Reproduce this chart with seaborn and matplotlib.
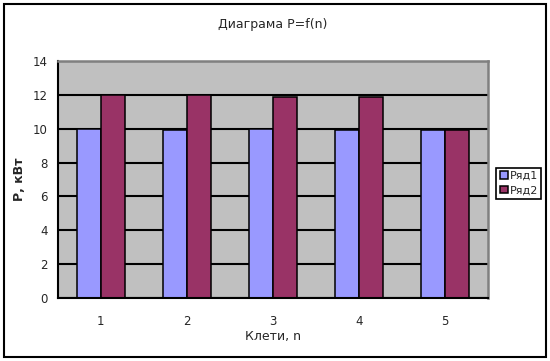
import pandas as pd
import matplotlib.pyplot as plt
import seaborn as sns
from matplotlib.patches import Rectangle
from matplotlib.ticker import FixedLocator

# Дані
kleti = ["1", "2", "3", "4", "5"]
ryad1 = [10.0, 9.9, 10.0, 9.9, 9.9]
ryad2 = [12.0, 12.0, 11.9, 11.9, 9.9]

df = pd.DataFrame({
    "klet": kleti * 2,
    "P": ryad1 + ryad2,
    "ryad": ["Ряд1"] * len(kleti) + ["Ряд2"] * len(kleti),
})

sns.set_style("white")
plt.rcParams["font.family"] = ["DejaVu Sans"]

fig = plt.figure(figsize=(5.5, 3.61), dpi=100)
ax = fig.add_axes([0.105, 0.1745, 0.782, 0.6565])
ax.set_facecolor("#C0C0C0")

sns.barplot(data=df, x="klet", y="P", hue="ryad", palette=["#9999FF", "#993366"],
            width=0.56, edgecolor="black", linewidth=1.1, saturation=1, ax=ax)

ax.set_ylim(0, 14)
ax.set_xlim(-0.5, 4.5)
ax.set_yticks(range(0, 15, 2))
ax.yaxis.grid(True, color="black", linewidth=1.5)
ax.set_axisbelow(True)

# риски між категоріями, підписи по центру
ax.xaxis.set_major_locator(FixedLocator([i - 0.5 for i in range(len(kleti) + 1)]))
ax.xaxis.set_minor_locator(FixedLocator(range(len(kleti))))
ax.set_xticklabels([""] * (len(kleti) + 1))
ax.set_xticklabels(kleti, minor=True)
ax.tick_params(axis="x", which="major", direction="out", length=4, width=1.2, color="black")
ax.tick_params(axis="x", which="minor", length=0, pad=12, labelsize=8.5)
ax.tick_params(axis="y", direction="out", length=4, width=1.2, color="black", labelsize=8.5, pad=3)

for side in ["left", "bottom"]:
    ax.spines[side].set_color("black")
    ax.spines[side].set_linewidth(1.5)
for side in ["top", "right"]:
    ax.spines[side].set_color("#808080")
    ax.spines[side].set_linewidth(1.8)

ax.set_title("Диаграма P=f(n)", fontsize=9, pad=24)
ax.set_xlabel("Клети, n", fontsize=9, labelpad=2)
ax.set_ylabel("Р, кВт", fontsize=9, fontweight="bold", labelpad=5)

leg = ax.legend(loc="center left", bbox_to_anchor=(1.02, 0.485), fontsize=8,
                handlelength=0.7, handleheight=0.7, handletextpad=0.2,
                borderpad=0.3, labelspacing=0.4, borderaxespad=0,
                fancybox=False, edgecolor="black", framealpha=1, title=None)
leg.get_frame().set_linewidth(1.2)

fig.patches.append(Rectangle((0.008, 0.012), 0.984, 0.976, transform=fig.transFigure,
                             fill=False, edgecolor="black", linewidth=1.5))

fig.savefig("out.png", dpi=100)
